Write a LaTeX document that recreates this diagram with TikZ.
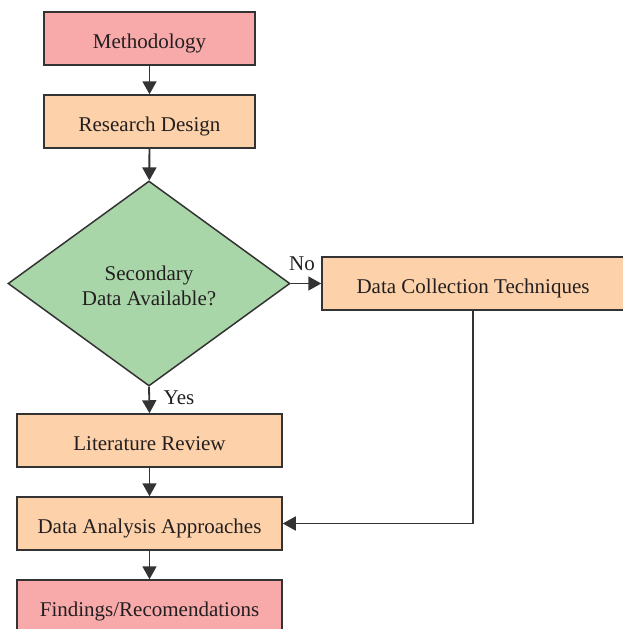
\documentclass[tikz,border=0pt]{standalone}
\usepackage{fontspec}
\setmainfont{Liberation Serif}
\usetikzlibrary{shapes.geometric,arrows.meta}
\definecolor{pinkfill}{HTML}{F8A9AA}
\definecolor{peachfill}{HTML}{FDD1A9}
\definecolor{greenfill}{HTML}{A9D6A8}
\definecolor{edge}{HTML}{333333}
\definecolor{ink}{HTML}{231F20}
\tikzset{
  box/.style={draw=edge, line width=1.5pt, rectangle, inner sep=0pt,
    font=\fontsize{21}{25}\selectfont, text=ink, text height=19pt, text depth=0pt},
  stepbox/.style={box, fill=peachfill},
  endbox/.style={box, fill=pinkfill},
  decision/.style={draw=edge, line width=1.5pt, diamond, fill=greenfill, aspect=1.376,
    minimum width=282pt, minimum height=205pt, inner sep=0pt, align=center,
    font=\fontsize{21}{24}\selectfont, text=ink},
  flow/.style={draw=edge, line width=1.8pt, -{Triangle[length=13pt,width=14pt]}},
  lbl/.style={font=\fontsize{21}{25}\selectfont, text=ink, inner sep=0pt}
}
\begin{document}
\begin{tikzpicture}[x=1pt,y=-1pt]
\useasboundingbox (0,0) rectangle (622,629);
% process boxes
\node[endbox, minimum width=211pt, minimum height=53pt] (meth) at (149.5,38.5) {Methodology};
\node[stepbox, minimum width=211pt, minimum height=53pt] (design) at (149.5,121.5) {Research Design};
\node[decision] (sec) at (149,283.5) {};
\node[lbl, align=center] (sectext) at (149,285.5) {Secondary\\Data Available?};
\node[stepbox, minimum width=302pt, minimum height=53pt] (collect) at (473,283.5) {Data Collection Techniques};
\node[stepbox, minimum width=265pt, minimum height=53pt] (lit) at (149.5,440.5) {Literature Review};
\node[stepbox, minimum width=265pt, minimum height=53pt] (analysis) at (149.5,523.5) {Data Analysis Approaches};
\node[endbox, minimum width=265pt, minimum height=53pt] (find) at (149.5,606.5) {Findings/Recomendations};
% connectors
\draw[flow] (meth) -- (design);
\draw[flow] (design) -- (sec);
\draw[flow] (sec.east) -- (collect.west);
\draw[flow] (sec.south) -- (lit.north);
\draw[flow] (lit) -- (analysis);
\draw[flow] (analysis) -- (find);
\draw[flow] (collect.south -| 473,0) |- (analysis.east);
% branch labels
\node[lbl] (no) at (302,264) {No};
\node[lbl] (yes) at (179,398) {Yes};
\end{tikzpicture}
\end{document}
